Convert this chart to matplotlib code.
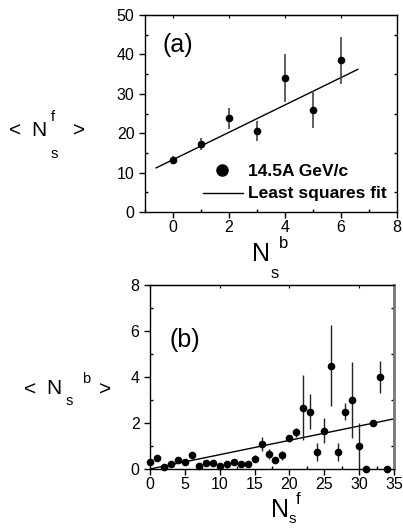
import numpy as np
import matplotlib
matplotlib.use('Agg')
import matplotlib.pyplot as plt
from matplotlib.ticker import MultipleLocator

# panel (a): <Ns^f> vs Ns^b
nb = [0, 1, 2, 3, 4, 5, 6]
nf_mean = [13.1, 17.3, 23.8, 20.5, 34.0, 26.0, 38.5]
nf_err = [1.0, 1.5, 2.7, 2.5, 6.0, 4.8, 6.0]
fit_a_x = [-0.6, 6.6]
fit_a_y = [11.2, 36.2]

# panel (b): <Ns^b> vs Ns^f
nf = list(range(35))
nb_mean = [0.32, 0.5, 0.1, 0.2, 0.4, 0.3, 0.6, 0.15, 0.25, 0.25,
           0.15, 0.2, 0.3, 0.2, 0.2, 0.45, 1.07, 0.65, 0.4, 0.6,
           1.33, 1.6, 2.67, 2.5, 0.75, 1.67, 4.5, 0.75, 2.5, 3.0,
           1.0, 0.0, 2.0, 4.0, 0.0]
nb_err = [0.05, 0.08, 0.03, 0.05, 0.06, 0.06, 0.15, 0.05, 0.05, 0.05,
          0.05, 0.15, 0.08, 0.05, 0.08, 0.15, 0.3, 0.2, 0.1, 0.2,
          0.15, 0.2, 1.42, 0.75, 0.4, 0.55, 1.78, 0.4, 0.35, 1.65,
          1.0, 0.0, 0.0, 0.7, 0.0]
fit_b_x = [0, 35]
fit_b_y = [0.0, 2.18]

matplotlib.rcParams['font.family'] = 'Liberation Sans'
matplotlib.rcParams['font.size'] = 11

W, H = 403, 529


def style_axes(ax):
    ax.tick_params(which='major', direction='out', length=4, width=1,
                   labelsize=11.5, top=False, right=False)
    ax.tick_params(which='minor', direction='in', length=2, width=1,
                   top=False)
    ax.secondary_xaxis('top').tick_params(which='both', direction='in', labeltop=False, length=2)
    ax.tick_params(axis='x', pad=2)
    for s in ax.spines.values():
        s.set_linewidth(1)


def ptext(x, y, s, size):
    # text placed by figure pixel position (from top-left)
    fig.text(x / W, 1 - y / H, s, fontsize=size, ha='left', va='center')


fig = plt.figure(figsize=(W / 100, H / 100), dpi=100)

ax1 = fig.add_axes([145 / W, 1 - 212 / H, 252 / W, 197 / H])
ax1.errorbar(nb, nf_mean, yerr=nf_err, fmt='o', color='k', ms=4.5,
             ecolor='#444444', elinewidth=1.2, capsize=0, zorder=3)
ax1.plot(fit_a_x, fit_a_y, '-k', lw=1)
ax1.set_xlim(-1, 8)
ax1.set_ylim(0, 50)
ax1.xaxis.set_major_locator(MultipleLocator(2))
ax1.xaxis.set_minor_locator(MultipleLocator(1))
ax1.yaxis.set_major_locator(MultipleLocator(10))
ax1.yaxis.set_minor_locator(MultipleLocator(5))
ax1.tick_params(which='minor', right=True, direction='in')
style_axes(ax1)
ax1.text(0.07, 0.85, '(a)', transform=ax1.transAxes, fontsize=18, va='center')
# legend
ax1.plot([1.75], [10.66], 'o', color='k', ms=8)
ax1.plot([1.07, 2.5], [4.8, 4.8], '-k', lw=1)
ax1.text(0.409, 0.205, '14.5A GeV/c', transform=ax1.transAxes,
         fontsize=12.5, fontweight='bold', va='center')
ax1.text(0.409, 0.096, 'Least squares fit', transform=ax1.transAxes,
         fontsize=12.5, fontweight='bold', va='center')

ax2 = fig.add_axes([150 / W, 1 - 469 / H, 244 / W, 184 / H])
ax2.errorbar(nf, nb_mean, yerr=nb_err, fmt='o', color='k', ms=4.5,
             ecolor='#222222', elinewidth=1.0, capsize=0, zorder=3,
             clip_on=False)
ax2.plot(fit_b_x, fit_b_y, '-k', lw=1)
ax2.set_xlim(0, 35)
ax2.set_ylim(0, 8)
ax2.xaxis.set_major_locator(MultipleLocator(5))
ax2.xaxis.set_minor_locator(MultipleLocator(2.5))
ax2.yaxis.set_major_locator(MultipleLocator(2))
ax2.yaxis.set_minor_locator(MultipleLocator(1))
ax2.tick_params(which='minor', right=True, direction='in')
style_axes(ax2)
ax2.spines['right'].set_color('#777777')
ax2.spines['right'].set_linewidth(2)
ax2.text(0.08, 0.70, '(b)', transform=ax2.transAxes, fontsize=18, va='center')

# y label (a): < Ns^f >
ptext(9, 131, '<', 15)
ptext(31, 130, 'N', 15)
ptext(51, 154, 's', 10.5)
ptext(51, 117, 'f', 10.5)
ptext(73, 131, '>', 15)

# x label (a): Ns^b
ptext(252, 254, 'N', 18)
ptext(271, 273, 's', 12)
ptext(279, 244, 'b', 12)

# y label (b): < Ns^b >
ptext(24, 390, '<', 15)
ptext(46, 389, 'N', 15)
ptext(66, 401, 's', 10.5)
ptext(82, 379, 'b', 10.5)
ptext(99, 390, '>', 15)

# x label (b): Ns^f
ptext(271, 510, 'N', 18)
ptext(289, 519, 's', 11)
ptext(296, 500, 'f', 12)

plt.savefig('out.png', dpi=100)
